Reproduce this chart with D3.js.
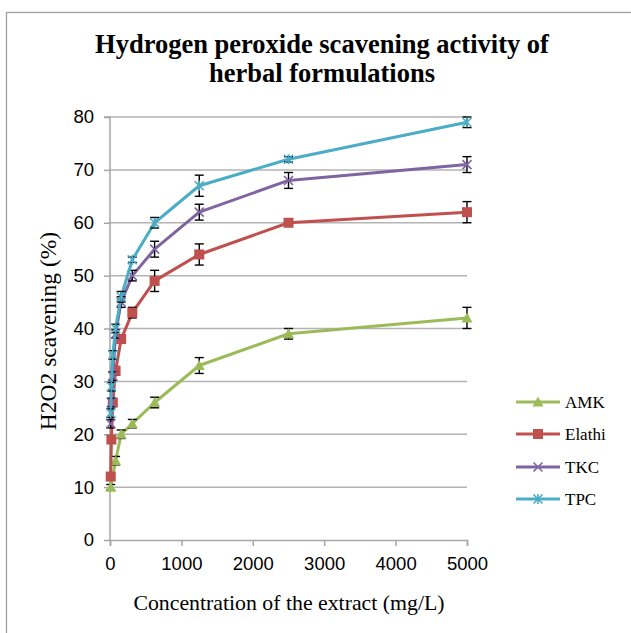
<!DOCTYPE html>
<html><head><meta charset="utf-8">
<script src="https://cdn.jsdelivr.net/npm/d3@7"></script>
<style>body{margin:0;background:#fff}svg{display:block}</style>
</head><body>
<svg id="c" width="631" height="633"></svg>
<script>
const concentrations = [9.77, 19.53, 39.06, 78.125, 156.25, 312.5, 625, 1250, 2500, 5000];
const seriesNames = ["AMK", "Elathi", "TKC", "TPC"];
const amk    = [10, null, null, 15, 20, 22, 26, 33, 39, 42];
const elathi = [12, 19, 26, 32, 38, 43, 49, 54, 60, 62];
const tkc    = [22, 26, 31, 39, 45, 50, 55, 62, 68, 71];
const tpc    = [24, 29, 35, 40, 46, 53, 60, 67, 72, 79];
const amkErr    = [0.5, null, null, 0.8, 0.8, 0.8, 1, 1.5, 1, 2];
const elathiErr = [0.5, 0.5, 0.5, 0.8, 0.8, 1, 2, 2, 0.5, 2];
const tkcErr    = [0.8, 0.8, 0.8, 0.8, 1, 1, 1.5, 1.5, 1.5, 1.5];
const tpcErr    = [0.8, 0.8, 0.8, 0.8, 1, 0.5, 1, 2, 0.5, 1];
const xTicks = [0, 1000, 2000, 3000, 4000, 5000];
const yTicks = [0, 10, 20, 30, 40, 50, 60, 70, 80];
const colors = ["#9BBB59", "#C0504D", "#8064A2", "#4BACC6"];
const markers = ["triangle", "square", "x", "asterisk"];

const svg = d3.select("#c");
const x = d3.scaleLinear().domain([0, 5000]).range([110, 467]);
const y = d3.scaleLinear().domain([0, 80]).range([540, 117]);

// outer border
svg.append("rect").attr("x", 6.5).attr("y", 12.5).attr("width", 640).attr("height", 640)
  .attr("fill", "none").attr("stroke", "#a0a0a0").attr("stroke-width", 1.3);

// title
const title = svg.append("text").attr("text-anchor", "middle")
  .attr("font-family", "Liberation Serif, Times New Roman, serif").attr("font-weight", "bold")
  .attr("font-size", 26.5).attr("fill", "#000");
title.append("tspan").attr("x", 322).attr("y", 53).text("Hydrogen peroxide scavening activity of");
title.append("tspan").attr("x", 322).attr("y", 82).text("herbal formulations");

// gridlines
svg.append("g").selectAll("line").data(yTicks.filter(d => d > 0)).join("line")
  .attr("x1", x(0)).attr("x2", x(5000)).attr("y1", d => y(d)).attr("y2", d => y(d))
  .attr("stroke", "#b3b3b3").attr("stroke-width", 1.5);

// axes
const gy = svg.append("g").attr("transform", `translate(${x(0)},0)`)
  .call(d3.axisLeft(y).tickValues(yTicks).tickSize(6).tickPadding(10).tickFormat(d3.format("d")));
const gx = svg.append("g").attr("transform", `translate(0,${y(0)})`)
  .call(d3.axisBottom(x).tickValues(xTicks).tickSize(6).tickPadding(11).tickFormat(d3.format("d")));
[gx, gy].forEach(g => {
  g.select(".domain").attr("stroke", "#a6a6a6").attr("stroke-width", 1.5);
  g.selectAll(".tick line").attr("stroke", "#a6a6a6").attr("stroke-width", 1.5);
  g.selectAll(".tick text").attr("font-family", "Liberation Sans, Arial, sans-serif")
    .attr("font-size", 18.5).attr("fill", "#000");
});
gy.select(".domain").attr("d", `M-6,${y(80)}H0V${y(0)}`);

// axis titles
svg.append("text").attr("x", 289).attr("y", 610).attr("text-anchor", "middle")
  .attr("font-family", "Liberation Serif, Times New Roman, serif").attr("font-size", 21.8)
  .text("Concentration of the extract (mg/L)");
svg.append("text").attr("transform", "translate(56,331) rotate(-90)").attr("text-anchor", "middle")
  .attr("font-family", "Liberation Serif, Times New Roman, serif").attr("font-size", 23.5)
  .text("H2O2 scavening (%)");

function drawMarker(g, type, color) {
  if (type === "triangle") {
    g.append("path").attr("d", "M0,-5.5L5.5,4.5L-5.5,4.5Z").attr("fill", color);
  } else if (type === "square") {
    g.append("rect").attr("x", -5).attr("y", -5).attr("width", 10).attr("height", 10).attr("fill", color);
  } else if (type === "x") {
    g.append("path").attr("d", "M-4.5,-4.5L4.5,4.5M-4.5,4.5L4.5,-4.5").attr("stroke", color).attr("stroke-width", 1.6);
  } else {
    g.append("path").attr("d", "M-4.5,-4.5L4.5,4.5M-4.5,4.5L4.5,-4.5M0,-5V5").attr("stroke", color).attr("stroke-width", 1.6);
  }
}

const allVals = [amk, elathi, tkc, tpc];
const allErr = [amkErr, elathiErr, tkcErr, tpcErr];
const line = d3.line().x(d => x(d.c)).y(d => y(d.v));

allVals.forEach((vals, i) => {
  const pts = concentrations.map((c, j) => ({c, v: vals[j], e: allErr[i][j]})).filter(d => d.v !== null);
  const g = svg.append("g");
  g.append("path").datum(pts).attr("d", line).attr("fill", "none")
    .attr("stroke", colors[i]).attr("stroke-width", 3).attr("stroke-linejoin", "round");
  pts.forEach(d => {
    const eb = g.append("g").attr("stroke", "#000").attr("stroke-width", 1.4);
    eb.append("line").attr("x1", x(d.c)).attr("x2", x(d.c)).attr("y1", y(d.v - d.e)).attr("y2", y(d.v + d.e));
    [d.v - d.e, d.v + d.e].forEach(v => eb.append("line").attr("x1", x(d.c) - 4.5).attr("x2", x(d.c) + 4.5)
      .attr("y1", y(v)).attr("y2", y(v)));
  });
  pts.forEach(d => {
    drawMarker(g.append("g").attr("transform", `translate(${x(d.c)},${y(d.v)})`), markers[i], colors[i]);
  });
});

// legend
const legendY = [402, 434, 467, 499];
seriesNames.forEach((name, i) => {
  const lg = svg.append("g").attr("transform", `translate(0,${legendY[i]})`);
  lg.append("line").attr("x1", 516).attr("x2", 560).attr("y1", 0).attr("y2", 0)
    .attr("stroke", colors[i]).attr("stroke-width", 3);
  drawMarker(lg.append("g").attr("transform", "translate(538,0)"), markers[i], colors[i]);
  lg.append("text").attr("x", 565).attr("y", 6).attr("font-family", "Liberation Serif, Times New Roman, serif")
    .attr("font-size", 17).text(name);
});
</script>
</body></html>
